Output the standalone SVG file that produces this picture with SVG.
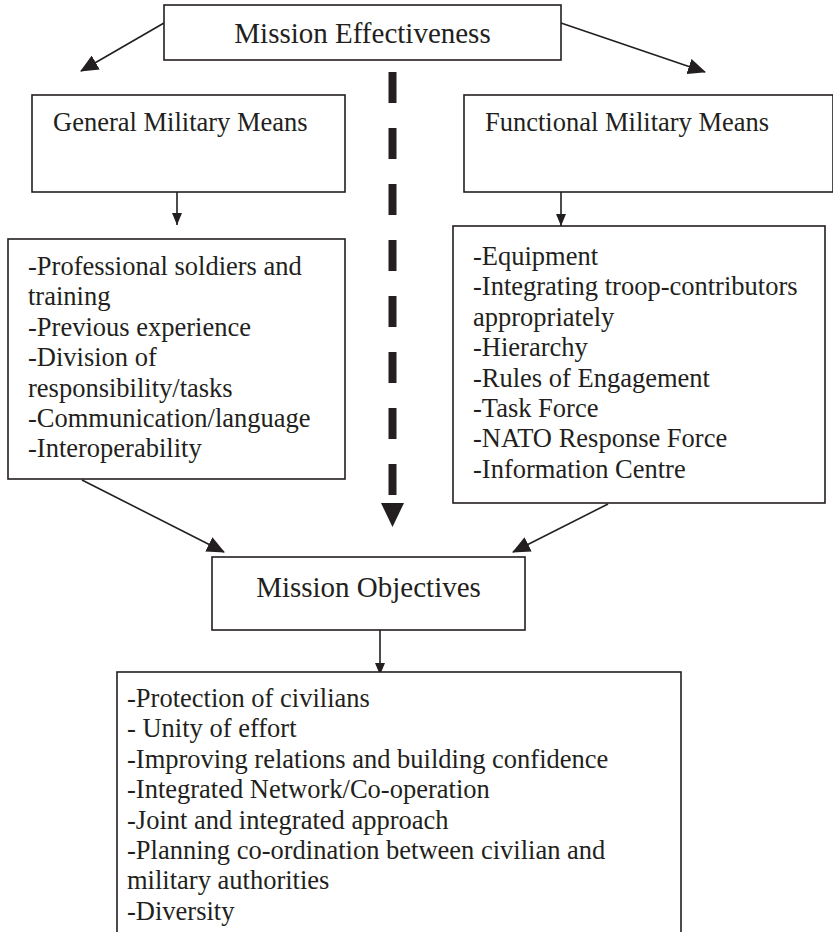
<svg xmlns="http://www.w3.org/2000/svg" width="833" height="932" viewBox="0 0 833 932">
<style>
.box{fill:#fff;stroke:#231f20;stroke-width:1.6}
.t{font-family:"Liberation Serif","Times New Roman",serif;fill:#231f20}
.big{font-size:29px}
.txt{font-size:26.5px}
.ln{stroke:#231f20;stroke-width:1.6;fill:none}
</style>
<defs>
<marker id="ah" markerUnits="userSpaceOnUse" markerWidth="18" markerHeight="16" refX="17" refY="8" orient="auto"><path d="M0,0 L18,8 L0,16 Z" fill="#231f20"/></marker>
<marker id="as" markerUnits="userSpaceOnUse" markerWidth="12" markerHeight="10" refX="12" refY="5" orient="auto"><path d="M0,0 L12,5 L0,10 Z" fill="#231f20"/></marker>
</defs>
<rect width="833" height="932" fill="#fff"/>
<g id="connectors">
<line class="ln" x1="164" y1="23" x2="81" y2="71" marker-end="url(#ah)"/>
<line class="ln" x1="561" y1="23" x2="705" y2="72" marker-end="url(#ah)"/>
<line class="ln" x1="177" y1="192" x2="177" y2="225" marker-end="url(#as)"/>
<line class="ln" x1="561" y1="192" x2="561" y2="226" marker-end="url(#as)"/>
<line class="ln" x1="82" y1="480" x2="224" y2="552" marker-end="url(#ah)"/>
<line class="ln" x1="608" y1="504" x2="513" y2="552" marker-end="url(#ah)"/>
<line class="ln" x1="380" y1="624" x2="380" y2="675" marker-end="url(#as)"/>
<line x1="392.5" y1="72" x2="392.5" y2="497" stroke="#231f20" stroke-width="8" stroke-dasharray="31 25"/>
<path d="M381,503 L404,503 L392.5,527 Z" fill="#231f20"/>
</g>
<g id="mission-effectiveness">
<rect class="box" x="164" y="5" width="397" height="55"/>
<text class="t big" x="362.5" y="43" text-anchor="middle">Mission Effectiveness</text>
</g>
<g id="general-military-means">
<rect class="box" x="32" y="95" width="313" height="97"/>
<text class="t txt" x="53" y="131">General Military Means</text>
</g>
<g id="functional-military-means">
<rect class="box" x="464" y="95" width="369" height="97"/>
<text class="t txt" x="485" y="131">Functional Military Means</text>
</g>
<g id="general-list">
<rect class="box" x="8" y="239" width="337" height="240"/>
<text class="t txt">
<tspan x="28" y="275">-Professional soldiers and</tspan>
<tspan x="28" y="305.4">training</tspan>
<tspan x="28" y="335.8">-Previous experience</tspan>
<tspan x="28" y="366.2">-Division of</tspan>
<tspan x="28" y="396.6">responsibility/tasks</tspan>
<tspan x="28" y="427">-Communication/language</tspan>
<tspan x="28" y="457.4">-Interoperability</tspan>
</text>
</g>
<g id="functional-list">
<rect class="box" x="453" y="226" width="372" height="277"/>
<text class="t txt">
<tspan x="473" y="265">-Equipment</tspan>
<tspan x="473" y="295.4">-Integrating troop-contributors</tspan>
<tspan x="473" y="325.8">appropriately</tspan>
<tspan x="473" y="356.2">-Hierarchy</tspan>
<tspan x="473" y="386.6">-Rules of Engagement</tspan>
<tspan x="473" y="417">-Task Force</tspan>
<tspan x="473" y="447.4">-NATO Response Force</tspan>
<tspan x="473" y="477.8">-Information Centre</tspan>
</text>
</g>
<g id="mission-objectives">
<rect class="box" x="212" y="557" width="313" height="73"/>
<text class="t big" x="368.5" y="597" text-anchor="middle">Mission Objectives</text>
</g>
<g id="objectives-list">
<rect class="box" x="117" y="672" width="564" height="270"/>
<text class="t txt">
<tspan x="127" y="707">-Protection of civilians</tspan>
<tspan x="127" y="737.4">- Unity of effort</tspan>
<tspan x="127" y="767.8">-Improving relations and building confidence</tspan>
<tspan x="127" y="798.2">-Integrated Network/Co-operation</tspan>
<tspan x="127" y="828.6">-Joint and integrated approach</tspan>
<tspan x="127" y="859">-Planning co-ordination between civilian and</tspan>
<tspan x="127" y="889.4">military authorities</tspan>
<tspan x="127" y="919.8">-Diversity</tspan>
</text>
</g>
</svg>
